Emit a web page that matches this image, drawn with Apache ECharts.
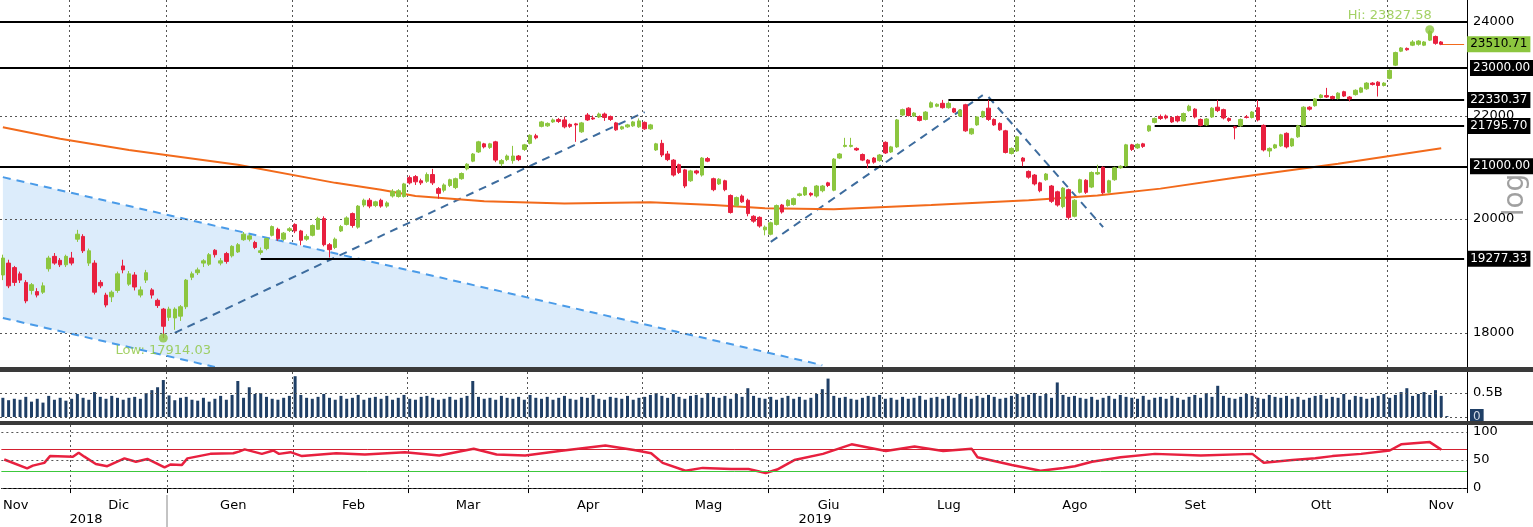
<!DOCTYPE html>
<html>
<head>
<meta charset="utf-8">
<script src="https://cdn.jsdelivr.net/npm/echarts@6/dist/echarts.min.js"></script>
<style>
  html, body { margin: 0; padding: 0; background: #fff; }
  #chart { width: 1533px; height: 527px; }
</style>
</head>
<body>
<div id="chart"></div>
<script>
const chart = echarts.init(document.getElementById('chart'));

// daily candles [open, close, low, high]
const candles = [
[18990,19290,18900,19350],[19200,18800,18760,19260],[19120,18860,18800,19150],[19010,18900,18850,19050],
[18860,18540,18500,18900],[18720,18820,18650,18850],[18700,18640,18600,18760],[18690,18800,18660,18860],
[19100,19290,19050,19330],[19320,19200,19170,19380],[19250,19170,19130,19290],[19170,19320,19130,19350],
[19290,19200,19160,19400],[19630,19720,19580,19800],[19680,19420,19380,19720],[19200,19420,19150,19460],
[19200,18690,18650,19250],[18860,18800,18760,18900],[18640,18470,18430,18680],[18610,18690,18520,18720],
[18720,19010,18680,19050],[19150,19080,19020,19260],[18830,19010,18800,19060],[18990,18780,18720,19040],
[18640,18730,18600,18790],[18900,19030,18850,19080],[18730,18640,18580,18760],[18550,18460,18420,18580],
[18400,18110,17914.03,18420],[18260,18400,18200,18440],[18250,18400,18050,18430],[18280,18440,18200,18470],
[18440,18900,18400,18920],[18950,19010,18900,19050],[19030,19080,18990,19120],[19200,19240,19130,19270],
[19180,19350,19150,19380],[19430,19350,19300,19450],[19200,19240,19160,19290],[19370,19230,19190,19400],
[19330,19500,19300,19520],[19400,19530,19380,19560],[19620,19720,19600,19760],[19630,19690,19590,19720],
[19570,19480,19450,19600],[19390,19420,19350,19480],[19460,19640,19430,19660],[19700,19860,19680,19880],
[19810,19640,19600,19840],[19630,19740,19600,19760],[19790,19820,19760,19850],[19900,19780,19740,19920],
[19780,19610,19520,19800],[19630,19680,19600,19720],[19700,19880,19680,19900],[19810,20010,19800,20040],
[20010,19530,19500,20050],[19530,19440,19300,19560],[19480,19630,19450,19660],[19780,19860,19760,19890],
[19900,20020,19880,20050],[20100,19880,19840,20120],[19850,20240,19820,20260],[20260,20350,20220,20380],
[20350,20240,20200,20390],[20250,20320,20220,20340],[20350,20240,20210,20380],[20240,20300,20210,20330],
[20430,20520,20400,20560],[20420,20530,20400,20560],[20420,20660,20400,20680],[20780,20680,20650,20820],
[20800,20700,20640,20830],[20720,20680,20640,20760],[20710,20840,20680,20880],[20840,20680,20640,20950],
[20570,20480,20380,20600],[20540,20640,20500,20670],[20630,20740,20600,20760],[20590,20760,20560,20780],
[20760,20860,20740,20880],[20950,21040,20920,21060],[21100,21240,21080,21260],[21280,21480,21260,21500],
[21440,21380,21350,21460],[21370,21440,21340,21460],[21480,21120,21080,21500],[21050,21110,21000,21140],
[21130,21200,21100,21230],[21110,21200,21050,21400],[21200,21130,21100,21220],[21330,21420,21300,21440],
[21450,21610,21430,21630],[21600,21560,21530,21640],[21790,21880,21770,21900],[21800,21850,21780,21870],
[21880,21920,21860,21950],[21930,21890,21860,21960],[21920,21780,21750,21990],[21830,21790,21760,21850],
[21840,21820,21480,21860],[21680,21860,21660,21880],[22020,21920,21900,22060],[21960,21940,21920,22010],
[21980,22040,21960,22070],[22040,21970,21900,22070],[21990,21930,21900,22010],[21860,21720,21700,21880],
[21740,21780,21720,21800],[21780,21820,21760,21840],[21800,21880,21780,21900],[21780,21900,21760,21950],
[21870,21740,21720,21890],[21740,21820,21720,21840],[21320,21440,21300,21460],[21450,21220,21180,21520],
[21240,21130,21100,21300],[21120,20830,20800,21140],[21030,20880,20850,21050],[20930,20620,20580,20950],
[20720,20910,20700,20930],[20910,20870,20840,20930],[20830,21160,20800,21180],[21150,21100,21080,21180],
[20760,20550,20520,20780],[20660,20750,20640,20770],[20720,20550,20520,20740],[20440,20120,20100,20460],
[20250,20400,20230,20420],[20430,20320,20300,20460],[20350,20100,20050,20380],[20050,19960,19930,20070],
[20030,19870,19840,20050],[19800,19850,19700,19880],[19720,19930,19700,19950],[19900,20250,19880,20270],
[20260,20130,20100,20280],[20250,20350,20230,20370],[20270,20380,20250,20400],[20440,20470,20420,20490],
[20450,20590,20430,20610],[20480,20450,20420,20500],[20430,20620,20400,20640],[20530,20620,20500,20640],
[20680,20630,20600,20700],[20540,21140,20520,21160],[21160,21240,21140,21260],[21390,21410,21370,21560],
[21390,21410,21370,21560],[21350,21320,21300,21370],[21230,21120,21100,21250],[21120,21060,20960,21140],
[21160,21080,21050,21180],[21110,21220,21090,21240],[21470,21260,21240,21490],[21280,21380,21260,21400],
[21380,21920,21360,21940],[22020,22130,22000,22150],[22160,22010,21990,22180],[22000,22060,21980,22080],
[21990,21910,21890,22010],[21930,22080,21910,22100],[22180,22270,22160,22300],[22200,22240,22180,22260],
[22260,22170,22150,22330],[22170,22260,22150,22300],[22150,22080,22060,22170],[22000,22120,21980,22140],
[22230,21700,21680,22250],[21640,21740,21620,21760],[21820,21980,21800,22000],[21980,22090,21960,22110],
[22160,21930,21900,22330],[21930,21820,21800,21950],[21850,21720,21700,21870],[21700,21270,21250,21720],
[21250,21350,21230,21370],[21300,21580,21280,21600],[21160,21100,21000,21180],[20900,20790,20760,20920],
[20830,20660,20630,20850],[20680,20530,20500,20700],[20740,20850,20720,20870],[20620,20330,20300,20640],
[20510,20260,20230,20530],[20230,20580,20200,20600],[20550,20030,19990,20570],[20050,20350,20030,20370],
[20500,20740,20480,20760],[20730,20500,20470,20750],[20600,20880,20580,20900],[20850,20880,20830,21030],
[20980,20490,20460,21000],[20500,20720,20480,20740],[20740,20970,20720,20990],[20970,21000,20950,21020],
[21010,21420,20990,21440],[21420,21330,21300,21440],[21360,21430,21340,21450],[21440,21390,21360,21460],
[21700,21800,21680,21820],[21870,21950,21850,21970],[21990,21950,21920,22030],[22000,21960,21930,22030],
[21970,21880,21860,21990],[21990,21900,21870,22010],[21900,22050,21880,22070],[22110,22200,22090,22230],
[22140,21980,21950,22160],[21930,21810,21790,21950],[21820,21940,21800,21960],[21980,22160,21960,22180],
[22180,22110,22080,22330],[22130,21960,21930,22150],[21950,21910,21880,21970],[21780,21760,21530,21800],
[21800,21930,21780,21950],[21980,21970,21950,22020],[21970,22080,21950,22100],[22170,21920,21890,22330],
[21810,21320,21290,21830],[21300,21350,21180,21370],[21360,21420,21340,21440],[21400,21620,21380,21640],
[21650,21380,21350,21670],[21400,21540,21380,21560],[21580,21800,21560,21820],[21810,22180,21790,22200],
[22180,22140,22110,22200],[22210,22350,22190,22370],[22380,22430,22360,22450],[22420,22390,22370,22580],
[22400,22360,22340,22420],[22360,22470,22340,22490],[22500,22410,22390,22520],[22390,22350,22300,22410],
[22440,22530,22420,22550],[22490,22580,22470,22600],[22560,22680,22540,22700],[22680,22650,22630,22700],
[22700,22630,22400,22720],[22630,22680,22610,22700],[22780,22950,22760,22970],[23060,23330,23040,23350],
[23360,23430,23340,23450],[23420,23390,23370,23440],[23490,23560,23470,23600],[23510,23580,23480,23600],
[23490,23560,23470,23580],[23600,23790,23580,23827.58],[23680,23530,23500,23700],[23560,23510.71,23490,23580]
];

// volume in billions
const volume = [
0.40,0.35,0.38,0.36,0.42,0.32,0.38,0.30,0.44,0.36,0.40,0.34,0.38,0.48,0.40,0.36,0.52,0.42,0.38,0.44,0.40,
0.36,0.40,0.42,0.38,0.50,0.56,0.62,0.77,0.45,0.35,0.40,0.42,0.36,0.34,0.40,0.32,0.38,0.44,0.36,0.46,0.75,
0.40,0.62,0.48,0.50,0.42,0.38,0.36,0.40,0.44,0.85,0.46,0.40,0.38,0.42,0.48,0.40,0.36,0.44,0.38,0.40,0.46,
0.36,0.40,0.42,0.38,0.44,0.36,0.40,0.46,0.38,0.36,0.42,0.44,0.40,0.36,0.38,0.42,0.36,0.40,0.44,0.75,0.42,
0.38,0.40,0.36,0.44,0.40,0.38,0.42,0.36,0.46,0.40,0.38,0.42,0.36,0.40,0.44,0.38,0.36,0.42,0.40,0.46,0.38,
0.36,0.42,0.40,0.38,0.44,0.36,0.40,0.42,0.46,0.50,0.44,0.40,0.48,0.42,0.38,0.44,0.46,0.40,0.50,0.42,0.40,
0.44,0.38,0.48,0.42,0.60,0.44,0.40,0.38,0.42,0.36,0.40,0.44,0.38,0.42,0.36,0.40,0.48,0.58,0.80,0.44,0.40,
0.42,0.38,0.36,0.40,0.44,0.42,0.46,0.38,0.40,0.36,0.42,0.38,0.40,0.44,0.36,0.40,0.42,0.38,0.44,0.40,0.48,
0.42,0.38,0.44,0.40,0.46,0.42,0.38,0.40,0.44,0.48,0.42,0.46,0.50,0.44,0.48,0.40,0.72,0.46,0.42,0.44,0.40,
0.38,0.42,0.36,0.40,0.44,0.38,0.46,0.42,0.40,0.38,0.44,0.36,0.40,0.42,0.38,0.44,0.40,0.36,0.42,0.46,0.40,
0.50,0.42,0.65,0.44,0.40,0.38,0.42,0.48,0.44,0.40,0.38,0.46,0.42,0.40,0.44,0.38,0.42,0.36,0.40,0.44,0.46,
0.38,0.42,0.40,0.48,0.36,0.44,0.42,0.38,0.40,0.44,0.48,0.40,0.46,0.52,0.60,0.44,0.48,0.52,0.46,0.56,0.44,0.02
];

// RSI key points [bar index, value]
const rsi = [
[0,51],[4,35],[5,40],[7,45],[8,57],[12,56],[13,63],[14,56],[16,43],[18,39],[21,53],[23,47],[25,52],[28,37],
[29,42],[31,41],[32,53],[36,61],[40,62],[41,65],[42,69],[45,61],[47,67],[48,61],[50,64],[52,57],[58,62],
[63,60],[70,64],[76,58],[82,70],[86,60],[91,58],[97,66],[105,76],[110,68],[113,62],[115,45],[119,31],
[122,36],[127,34],[130,34],[133,27],[135,33],[138,50],[143,61],[148,78],[154,66],[159,74],[164,66],
[169,70],[170,55],[176,41],[181,31],[185,36],[187,39],[190,47],[195,55],[201,61],[209,58],[218,61],
[220,45],[225,50],[229,53],[232,57],[237,61],[242,67],[244,78],[249,82],[251,68.5659]
];

// 200-day moving average key points [bar index, value]
const ma200 = [
[0,21770],[10,21540],[22,21320],[41,21030],[58,20680],[66,20550],[72,20430],[84,20330],[98,20290],
[113,20310],[124,20260],[133,20200],[145,20180],[162,20260],[179,20350],[191,20440],[202,20570],
[215,20780],[233,21050],[251,21353.4]
];

// drawn channel and trend lines [bar index, value]
const channelUpper = [[0,20790],[143,17470]];
const channelLower = [[0,18250],[37,17440]];
const trendLines = [
  [[30,18000],[112,22080]],
  [[134,19580],[171,22430]],
  [[172,22390],[192,19850]]
];

const monthLabels = {2:'Nov',20:'Dic',40:'Gen',61:'Feb',81:'Mar',102:'Apr',123:'Mag',144:'Giu',165:'Lug',187:'Ago',208:'Set',230:'Ott',251:'Nov'};
const monthBounds = [12,29,51,71,92,112,134,154,177,198,219,242];

const N = 256;
const cats = [];
for (let i = 0; i < N; i++) cats.push(monthLabels[i] || '');

const FONT = 'DejaVu Sans';
const GREEN = '#8cc63f', RED = '#e8203f', ORANGE = '#f26a1b', NAVY = '#1f3f66';
const isBound = (i) => monthBounds.indexOf(i) >= 0;

function tag(bg, fg, text) {
  return { show: true, position: 'end', distance: 3, backgroundColor: bg, color: fg,
    padding: [2, 3], fontSize: 12, fontFamily: FONT, formatter: text };
}
function plain(text) {
  return { show: true, position: 'end', distance: 6, color: '#000', fontSize: 13, fontFamily: FONT, formatter: text };
}
const dotted = { color: '#555', type: [2, 3], width: 1 };
const blackLine = { color: '#000', type: 'solid', width: 2 };
const hidden = { show: false };

function xAx(gi, showLabel) {
  return {
    type: 'category', gridIndex: gi, data: cats, boundaryGap: true,
    axisLine: { show: showLabel, lineStyle: { color: '#000' } },
    axisTick: { show: showLabel, interval: (i) => isBound(i), length: 5, lineStyle: { color: '#000' } },
    axisLabel: { show: showLabel, interval: 0, color: '#000', fontSize: 13, fontFamily: FONT, margin: 7 },
    splitLine: { show: true, interval: (i) => isBound(i), lineStyle: dotted }
  };
}
function yAx(gi, type, min, max) {
  return { type: type, gridIndex: gi, position: 'right', min: min, max: max,
    axisLine: { show: true, lineStyle: { color: '#000' } }, axisTick: { show: false },
    axisLabel: { show: false }, splitLine: { show: false }, minorSplitLine: { show: false } };
}

const option = {
  animation: false,
  grid: [
    { left: 0, right: 66, top: 0, height: 367 },
    { left: 0, right: 66, top: 372, height: 49 },
    { left: 0, right: 66, top: 425, height: 67 }
  ],
  xAxis: [xAx(0, false), xAx(1, false), xAx(2, true)],
  yAxis: [yAx(0, 'log', 17440, 24493), yAx(1, 'value', -0.083, 0.9375), yAx(2, 'value', -7, 112.5)],
  series: [
    {
      type: 'custom', xAxisIndex: 0, yAxisIndex: 0, clip: true, silent: true, z: 1,
      data: [0],
      renderItem: (params, api) => {
        const pts = [
          api.coord(channelUpper[0]), api.coord(channelUpper[1]),
          api.coord([channelUpper[1][0], 17440]),
          api.coord(channelLower[1]), api.coord(channelLower[0])
        ];
        return { type: 'polygon', shape: { points: pts }, style: { fill: '#dcecfb' } };
      }
    },
    { type: 'line', data: channelUpper, symbol: 'none', z: 2,
      lineStyle: { color: '#4a9be8', type: [8, 6], width: 2 } },
    { type: 'line', data: channelLower, symbol: 'none', z: 2,
      lineStyle: { color: '#4a9be8', type: [8, 6], width: 2 } },
    ...trendLines.map(t => ({ type: 'line', data: t, symbol: 'none', z: 3,
      lineStyle: { color: '#3d6c9e', type: [8, 6], width: 2 } })),
    { type: 'line', data: ma200, symbol: 'none', z: 3,
      lineStyle: { color: ORANGE, width: 2 },
      markLine: { symbol: 'none', silent: true,
        data: [[{ coord: [251, 21353.4], lineStyle: { opacity: 0 } },
                { coord: [255, 21353.4], label: tag(ORANGE, '#000', '21353.40') }]] } },
    {
      type: 'candlestick', data: candles, barWidth: 4, z: 5,
      itemStyle: { color: GREEN, color0: RED, borderColor: GREEN, borderColor0: RED, borderWidth: 1 },
      markLine: {
        symbol: 'none', silent: true,
        data: [
          { yAxis: 18000, lineStyle: dotted, label: plain('18000') },
          { yAxis: 20000, lineStyle: dotted, label: plain('20000') },
          { yAxis: 22000, lineStyle: dotted, label: plain('22000') },
          { yAxis: 24000, lineStyle: blackLine, label: plain('24000') },
          { yAxis: 23000, lineStyle: blackLine, label: tag('#000', '#fff', '23000.00') },
          { yAxis: 21000, lineStyle: blackLine, label: tag('#000', '#fff', '21000.00') },
          [{ coord: [165, 22330.37], lineStyle: blackLine }, { coord: [255, 22330.37], label: tag('#000', '#fff', '22330.37') }],
          [{ coord: [201, 21795.70], lineStyle: blackLine }, { coord: [255, 21795.70], label: tag('#000', '#fff', '21795.70') }],
          [{ coord: [45, 19277.33], lineStyle: blackLine }, { coord: [255, 19277.33], label: tag('#000', '#fff', '19277.33') }],
          [{ coord: [251, 23510.71], lineStyle: { color: ORANGE, width: 1, type: 'solid' } },
           { coord: [255, 23510.71], label: tag(GREEN, '#000', '23510.71') }]
        ]
      }
    },
    {
      type: 'scatter', z: 6, symbolSize: 9, itemStyle: { color: GREEN },
      data: [
        { value: [28, 17914.03], label: { show: true, formatter: 'Low: 17914.03', position: 'bottom', distance: 2 } },
        { value: [249, 23827.58], label: { show: true, formatter: 'Hi: 23827.58', position: 'top', offset: [-40, 2] } }
      ],
      label: { color: GREEN, fontSize: 13, fontFamily: FONT }
    },
    {
      type: 'bar', xAxisIndex: 1, yAxisIndex: 1, data: volume, barWidth: 3,
      itemStyle: { color: NAVY },
      markLine: { symbol: 'none', silent: true,
        data: [
          { yAxis: 0.5, lineStyle: dotted, label: plain('0.5B') },
          { yAxis: 0, lineStyle: dotted, label: tag(NAVY, '#cfd8e3', '0') }
        ] }
    },
    {
      type: 'line', xAxisIndex: 2, yAxisIndex: 2, data: rsi, symbol: 'none',
      lineStyle: { color: RED, width: 2.5 },
      markLine: { symbol: 'none', silent: true,
        data: [
          { yAxis: 100, lineStyle: dotted, label: plain('100') },
          { yAxis: 50, lineStyle: dotted, label: plain('50') },
          { yAxis: 0, lineStyle: dotted, label: plain('0') },
          { yAxis: 30, lineStyle: { color: '#3cc83c', width: 1, type: 'solid' }, label: hidden },
          { yAxis: 70, lineStyle: { color: '#d42030', width: 1, type: 'solid' }, label: hidden },
          [{ coord: [251, 68.5659], lineStyle: { opacity: 0 } },
           { coord: [255, 68.5659], label: tag(RED, '#fff', '68.5659') }]
        ] }
    }
  ],
  graphic: [
    { type: 'rect', shape: { x: 0, y: 367, width: 1533, height: 5 }, style: { fill: '#3a3a3a' }, z: 100 },
    { type: 'rect', shape: { x: 0, y: 421, width: 1533, height: 4 }, style: { fill: '#3a3a3a' }, z: 100 },
    { type: 'line', shape: { x1: 167, y1: 495, x2: 167, y2: 527 }, style: { stroke: '#888', lineWidth: 1 } },
    { type: 'text', x: 86, y: 520, style: { text: '2018', fill: '#000', font: '13px "DejaVu Sans"', align: 'center', verticalAlign: 'middle' } },
    { type: 'text', x: 815, y: 520, style: { text: '2019', fill: '#000', font: '13px "DejaVu Sans"', align: 'center', verticalAlign: 'middle' } },
    { type: 'text', x: 1516, y: 195, rotation: Math.PI / 2, style: { text: 'log', fill: '#a0a0a0', font: '28px "DejaVu Sans"', align: 'center', verticalAlign: 'middle' } }
  ]
};

chart.setOption(option);
window.addEventListener('resize', () => chart.resize());
</script>
</body>
</html>
